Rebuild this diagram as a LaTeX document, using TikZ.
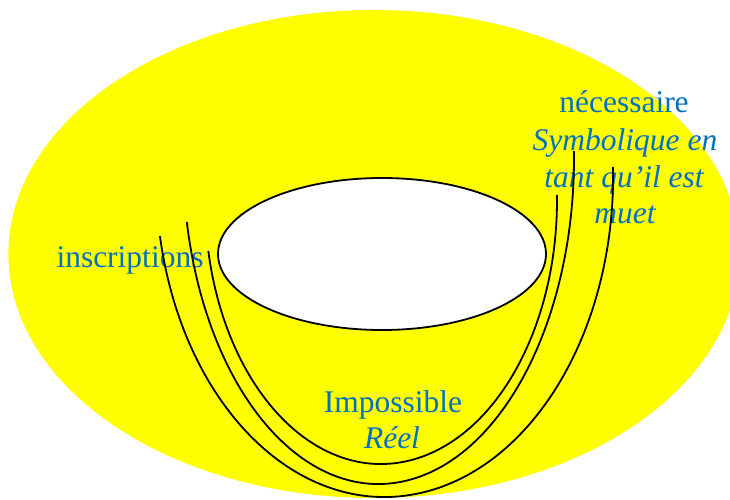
\documentclass[tikz,border=0pt]{standalone}
\usepackage{fontspec}
\setmainfont{Liberation Serif}
\definecolor{txtblue}{RGB}{0,112,192}
\definecolor{bgyellow}{RGB}{255,255,0}
\begin{document}
\begin{tikzpicture}[x=1pt,y=1pt,
  lbl/.style={text=txtblue,inner sep=0pt,anchor=base,font=\fontsize{31.5}{37}\selectfont},
  lbli/.style={lbl,font=\fontsize{31.5}{37}\selectfont\itshape},
  curve/.style={draw=black,line width=1.8pt}]
\useasboundingbox (0,0) rectangle (730,-500);
\clip (0,0) rectangle (730,-500);
% outer yellow field
\fill[bgyellow] (374,-254) ellipse [x radius=365.6, y radius=244];
% inner white hole
\draw[curve,fill=white] (382,-254) ellipse [x radius=164, y radius=76];
% labels
\node[lbl]  (inscr) at (130,-267) {inscriptions};
\node[lbl]  (nec)   at (624,-113) {nécessaire};
\node[lbli] (sym1)  at (625,-150) {Symbolique en};
\node[lbli] (sym2)  at (624,-187) {tant qu’il est};
\node[lbli] (sym3)  at (625,-223) {muet};
\node[lbl]  (imp)   at (393,-412) {Impossible};
\node[lbli] (reel)  at (392,-448) {Réel};
% three U-shaped curves
\coordinate (ci) at (381,-200);
\coordinate (cm) at (378.5,-158);
\coordinate (co) at (384.5,-176);
\draw[curve] ([shift={(191.14:176 and 264)}]ci) arc[start angle=191.14, end angle=361.09, x radius=176, y radius=264];
\draw[curve] ([shift={(191.32:195.5 and 326)}]cm) arc[start angle=191.32, end angle=361.23, x radius=195.5, y radius=326];
\draw[curve] ([shift={(190.77:228.6 and 321)}]co) arc[start angle=190.77, end angle=361.61, x radius=228.6, y radius=321];
\end{tikzpicture}
\end{document}
